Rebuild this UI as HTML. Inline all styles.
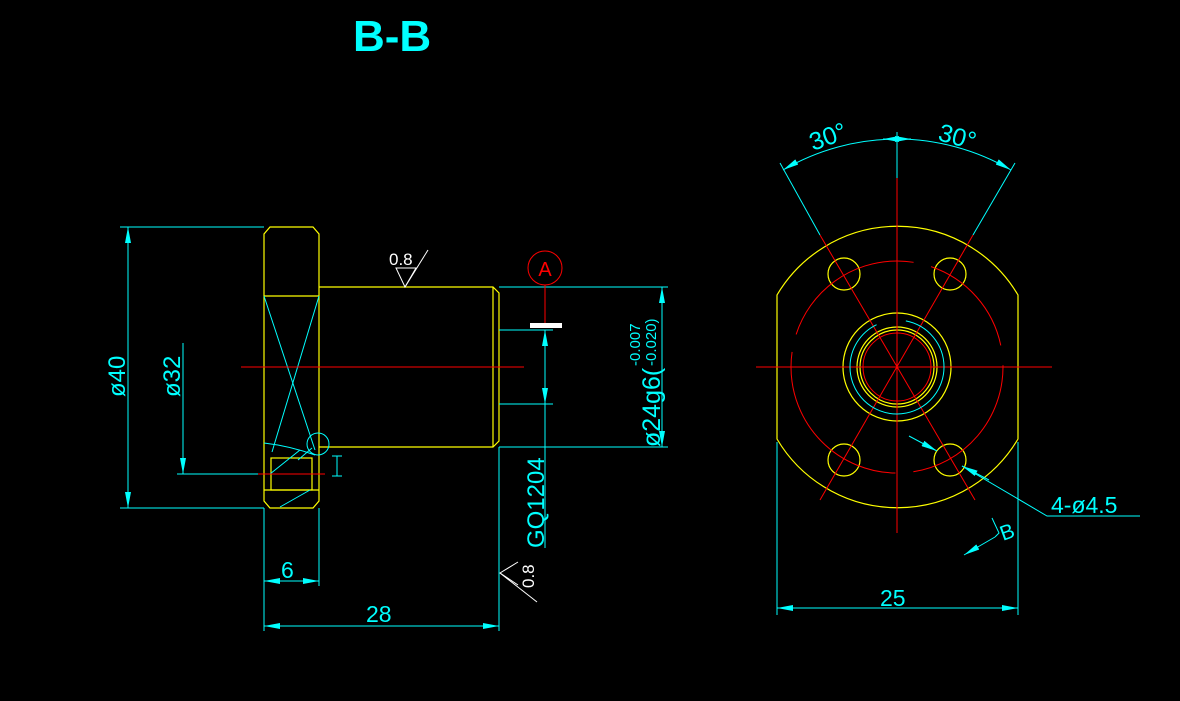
<!DOCTYPE html>
<html><head><meta charset="utf-8"><style>
html,body{margin:0;padding:0;background:#000;}
svg{display:block;}
text{font-family:"Liberation Sans",sans-serif;fill:#00ffff;}
</style></head><body>
<svg width="1180" height="701" viewBox="0 0 1180 701" xmlns="http://www.w3.org/2000/svg">
<defs>
<marker id="a" viewBox="0 0 16 6" refX="16" refY="3" markerWidth="16" markerHeight="6" markerUnits="userSpaceOnUse" orient="auto-start-reverse"><path d="M0,0 L16,3 L0,6 Z" fill="#00ffff"/></marker>
</defs>
<rect width="1180" height="701" fill="#000"/>
<text x="353" y="51" font-size="44" font-weight="bold">B-B</text>

<!-- LEFT VIEW -->
<g fill="none" stroke="#ffff00" stroke-width="1.2">
<path d="M270,227 L313,227 L319,234 L319,501 L313,508 L270,508 L264,501 L264,234 Z"/>
<line x1="264" y1="296" x2="319" y2="296"/>
<path d="M319,287 L493,287 L499,293 L499,441 L493,447 L319,447"/>
<line x1="493" y1="287" x2="493" y2="447"/>
<rect x="271" y="458" width="41" height="32"/>
<line x1="264" y1="490" x2="319" y2="490"/>
</g>
<g stroke="#00ffff" stroke-width="1" fill="none">
<line x1="264" y1="296" x2="315" y2="450"/>
<line x1="319" y1="296" x2="272" y2="452"/>
<path d="M264,443 Q290,446 315,455"/>
<circle cx="318" cy="444" r="11"/>
<line x1="270" y1="474" x2="300" y2="450"/>
<line x1="280" y1="507" x2="310" y2="490"/>
<line x1="298" y1="460" x2="312" y2="448"/>
<line x1="120" y1="227" x2="264" y2="227"/>
<line x1="120" y1="508" x2="264" y2="508"/>
<line x1="128" y1="227" x2="128" y2="508" marker-start="url(#a)" marker-end="url(#a)"/>
<line x1="177" y1="474" x2="264" y2="474"/>
<line x1="183" y1="343" x2="183" y2="474" marker-end="url(#a)"/>
<line x1="499" y1="287" x2="668" y2="287"/>
<line x1="499" y1="447" x2="668" y2="447"/>
<line x1="662" y1="287" x2="662" y2="447" marker-start="url(#a)" marker-end="url(#a)"/>
<line x1="499" y1="330" x2="553" y2="330"/>
<line x1="499" y1="404" x2="553" y2="404"/>
<line x1="545" y1="548" x2="545" y2="330" marker-end="url(#a)"/>
<line x1="545" y1="367" x2="545" y2="404" marker-end="url(#a)"/>
<line x1="264" y1="508" x2="264" y2="631"/>
<line x1="319" y1="508" x2="319" y2="586"/>
<line x1="499" y1="447" x2="499" y2="631"/>
<line x1="264" y1="581" x2="319" y2="581" marker-start="url(#a)" marker-end="url(#a)"/>
<line x1="264" y1="626" x2="499" y2="626" marker-start="url(#a)" marker-end="url(#a)"/>
<line x1="332" y1="456" x2="342" y2="456"/><line x1="337" y1="456" x2="337" y2="476"/><line x1="332" y1="476" x2="342" y2="476"/>
</g>
<g stroke="#ff0000" stroke-width="1" fill="none">
<line x1="241" y1="367" x2="524" y2="367"/>
<line x1="258" y1="474" x2="325" y2="474"/>
<circle cx="545" cy="268" r="17"/>
<line x1="545" y1="285" x2="545" y2="323"/>
</g>
<text x="545" y="276" font-size="20" style="fill:#ff0000" text-anchor="middle">A</text>
<rect x="530" y="323" width="32" height="5" fill="#fff"/>
<g stroke="#fff" stroke-width="1" fill="none">
<path d="M396,268 L416,268 L405,287 Z"/><line x1="405" y1="287" x2="428" y2="250"/>
<path d="M518,562 L500,573 L518,585"/><line x1="500" y1="573" x2="537" y2="602"/>
</g>
<text x="389" y="265" font-size="17" style="fill:#fff">0.8</text>
<text transform="translate(534,588) rotate(-90)" font-size="17" style="fill:#fff">0.8</text>
<text transform="translate(125,397) rotate(-90)" font-size="24">ø40</text>
<text transform="translate(180,397) rotate(-90)" font-size="24">ø32</text>
<text transform="translate(544,548) rotate(-90)" font-size="24">GQ1204</text>
<text transform="translate(660,447) rotate(-90)" font-size="25">ø24g6(</text>
<text transform="translate(640,366) rotate(-90)" font-size="15">-0.007</text>
<text transform="translate(656,366) rotate(-90)" font-size="15">-0.020)</text>
<text x="281" y="578" font-size="23">6</text>
<text x="366" y="622" font-size="23">28</text>

<!-- RIGHT VIEW -->
<g fill="none" stroke="#ffff00" stroke-width="1.2">
<path d="M777,295 A140,140 0 0 1 1018,295 L1018,439 A140,140 0 0 1 777,439 Z"/>
<circle cx="844" cy="274" r="16"/><circle cx="950" cy="274" r="16"/>
<circle cx="844" cy="460" r="16"/><circle cx="950" cy="460" r="16"/>
<circle cx="897" cy="367" r="54"/>
<circle cx="897" cy="367" r="40"/>
<circle cx="897" cy="367" r="37"/>
</g>
<g fill="none" stroke="#ff0000" stroke-width="1">
<circle cx="897" cy="367" r="106" stroke-dasharray="150,18,180,18,150,18,110,20"/>
<circle cx="897" cy="367" r="34"/>
<line x1="756" y1="367" x2="1052" y2="367"/>
<line x1="897" y1="178" x2="897" y2="533"/>
<line x1="820" y1="235" x2="975" y2="500"/>
<line x1="973" y1="235" x2="820" y2="500"/>
</g>
<g fill="none" stroke="#00ffff" stroke-width="1">
<circle cx="897" cy="367" r="47" stroke-dasharray="200,30,200,30"/>
<line x1="780" y1="163" x2="820" y2="235"/>
<line x1="1015" y1="163" x2="973" y2="235"/>
<line x1="897" y1="132" x2="897" y2="178"/>
<path d="M897,139 A228,228 0 0 0 783,170" marker-end="url(#a)"/>
<path d="M897,139 A228,228 0 0 1 1011,170" marker-end="url(#a)"/>
<path d="M883,139 L897,139" marker-start="url(#a)"/>
<path d="M911,139 L897,139" marker-start="url(#a)"/>
<line x1="909" y1="436" x2="937" y2="451" marker-end="url(#a)"/>
<line x1="989" y1="480" x2="962" y2="466" marker-end="url(#a)"/>
<polyline points="962,466 1047,516 1140,516"/>
<line x1="777" y1="442" x2="777" y2="615"/>
<line x1="1018" y1="442" x2="1018" y2="615"/>
<line x1="777" y1="608" x2="1018" y2="608" marker-start="url(#a)" marker-end="url(#a)"/>
<line x1="995" y1="537" x2="964" y2="555" marker-end="url(#a)"/>
<path d="M995,537 L999,533 L992,518"/>
</g>
<text transform="translate(813,151) rotate(-20)" font-size="25">30°</text>
<text transform="translate(937,140) rotate(15)" font-size="25">30°</text>
<text x="1051" y="513" font-size="23">4-ø4.5</text>
<text transform="translate(1003,541) rotate(-20)" font-size="21">B</text>
<text x="880" y="606" font-size="23">25</text>
</svg>
</body></html>
